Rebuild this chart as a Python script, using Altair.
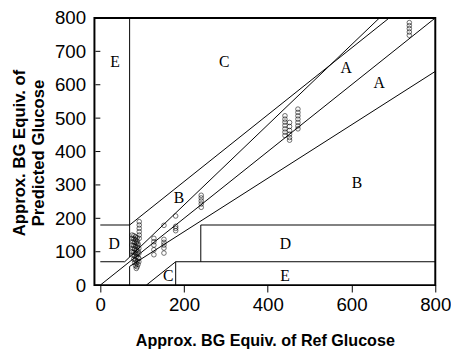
import altair as alt
import pandas as pd

# Zone boundary segments (Clarke error grid)
seg_x1 = [0, 0, 58.33, 70, 0, 70, 70, 70, 180, 180, 240, 240, 110]
seg_y1 = [0, 70, 70, 84, 180, 180, 0, 56, 0, 70, 70, 180, 0]
seg_x2 = [800, 58.33, 666.67, 70, 70, 690, 70, 800, 180, 800, 240, 800, 180]
seg_y2 = [800, 70, 800, 800, 180, 800, 56, 640, 70, 70, 180, 180, 70]

# Zone labels
lab_text = ["E", "C", "A", "A", "B", "B", "D", "D", "E", "C"]
lab_x = [35, 296, 587, 666, 613, 188, 33, 442, 441, 162]
lab_y = [668, 668, 649, 605, 307, 260, 122, 122, 28, 28]

# Data points (ref, predicted)
pt_x = [93, 93, 93, 93, 93, 93,
        76, 80, 84, 88, 76, 80, 84, 88, 78, 82, 86, 90, 76, 80, 84, 88,
        78, 82, 86, 90, 76, 80, 84, 88, 78, 82, 86, 90, 80, 84, 88, 82,
        86, 90, 84, 88, 86, 90, 92, 92, 92, 92,
        128, 128, 128, 128, 128,
        152, 152, 152, 152, 152, 152,
        180, 180, 180, 180,
        241, 241, 241, 241, 241,
        441, 441, 441, 441, 441, 441, 441,
        452, 452, 452, 452, 452, 452,
        472, 472, 472, 472, 472, 472, 472,
        738, 738, 738, 738, 738]
pt_y = [190, 180, 170, 160, 150, 140,
        150, 148, 145, 142, 140, 138, 136, 132, 130, 128, 126, 124, 120, 118, 116, 114,
        110, 108, 105, 102, 100, 98, 96, 93, 90, 88, 85, 82, 78, 75, 72, 68,
        65, 62, 58, 55, 50, 120, 110, 95, 80, 70,
        140, 130, 120, 106, 91,
        179, 137, 128, 120, 111, 96,
        207, 176, 170, 163,
        269, 261, 252, 243, 233,
        507, 497, 488, 478, 468, 458, 448,
        487, 475, 463, 452, 442, 434,
        527, 517, 507, 497, 487, 477, 468,
        786, 777, 768, 758, 748]

y_ticks = [0, 100, 200, 300, 400, 500, 600, 700, 800]
x_ticks = [0, 200, 400, 600, 800]

segs = pd.DataFrame({"x": seg_x1, "y": seg_y1, "x2": seg_x2, "y2": seg_y2})
labs = pd.DataFrame({"x": lab_x, "y": lab_y, "t": lab_text})
pts = pd.DataFrame({"x": pt_x, "y": pt_y})
yt = pd.DataFrame({"y": y_ticks})

xscale = alt.Scale(domain=[-14, 800], nice=False, zero=False)
yscale = alt.Scale(domain=[0, 800], nice=False, zero=False)

xaxis = alt.Axis(values=x_ticks, tickSize=7, tickColor="black", tickWidth=1,
                 labelFontSize=19, labelFont="Liberation Sans", labelColor="black",
                 labelPadding=4, labelFlush=False, labelOverlap=False,
                 domain=False, grid=False,
                 title="Approx. BG Equiv. of Ref Glucose",
                 titleFont="Liberation Sans", titleFontSize=16.4, titleFontWeight="bold",
                 titleColor="black", titleY=61, titleBaseline="alphabetic")
yaxis = alt.Axis(values=y_ticks, ticks=False, labelFontSize=19,
                 labelFont="Liberation Sans", labelColor="black", labelPadding=9,
                 labelFlush=False, labelOverlap=False, domain=False, grid=False,
                 title=["Approx. BG Equiv. of", "Predicted Glucose"],
                 titleFont="Liberation Sans", titleFontSize=17, titleFontWeight="bold",
                 titleColor="black", titleLineHeight=19, titleAngle=270,
                 titleX=-71, titleY=137, titleBaseline="alphabetic", titleAlign="center")

X = lambda f: alt.X(f, scale=xscale, axis=xaxis)
Y = lambda f: alt.Y(f, scale=yscale, axis=yaxis)

lines = alt.Chart(segs).mark_rule(color="black", strokeWidth=1).encode(
    x=X("x:Q"), y=Y("y:Q"), x2="x2:Q", y2="y2:Q")

ticks = alt.Chart(yt).mark_rule(color="black", strokeWidth=1).encode(
    y=Y("y:Q"), x=alt.value(1), x2=alt.value(6))

points = alt.Chart(pts).mark_point(shape="circle", filled=False, color="black",
                                   size=22, strokeWidth=0.8).encode(
    x=X("x:Q"), y=Y("y:Q"))

texts = alt.Chart(labs).mark_text(font="Liberation Serif", fontSize=16,
                                  color="black").encode(
    x=X("x:Q"), y=Y("y:Q"), text="t:N")

chart = alt.layer(lines, ticks, points, texts).properties(
    width=347, height=272,
    autosize=alt.AutoSizeParams(type="none"),
    padding={"left": 88, "top": 7, "right": 16, "bottom": 67},
    background="white",
).configure_view(stroke="black", strokeWidth=2)

chart.save("out.html", embed_options={"renderer": "svg", "actions": False})
